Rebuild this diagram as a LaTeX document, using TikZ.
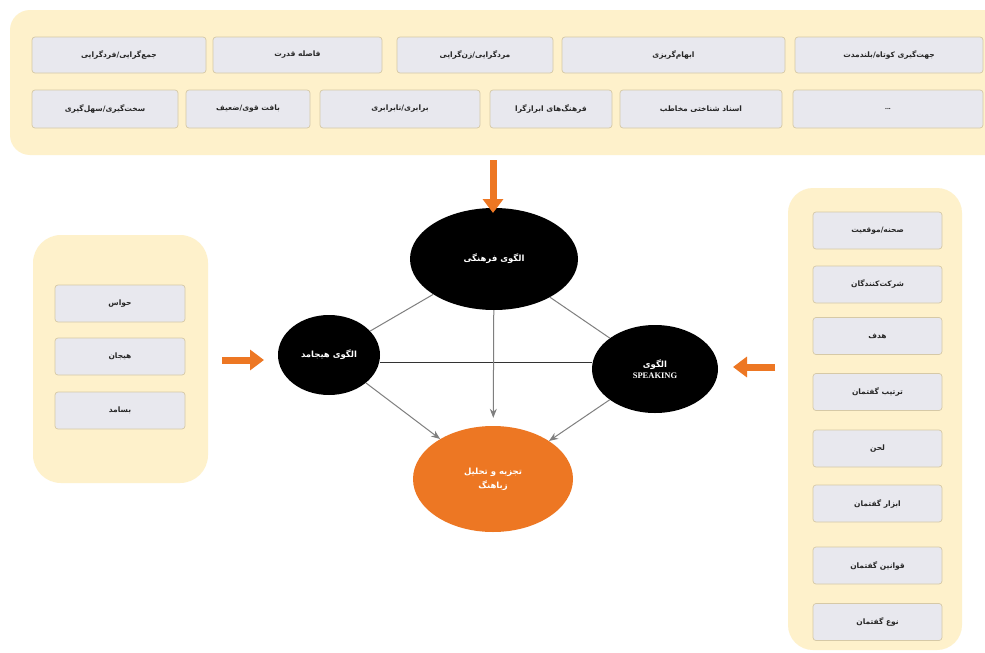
\documentclass[tikz,border=0pt]{standalone}
\usepackage{fontspec}
\setmainfont{Liberation Serif}
\newfontfamily\fa[Script=Arabic]{DejaVu Sans}
\TeXXeTstate=1
\usetikzlibrary{arrows.meta,shapes.geometric}
\definecolor{cream}{HTML}{FEF1CB}
\definecolor{boxg}{HTML}{E8E8EE}
\definecolor{boxb}{HTML}{D6C9A6}
\definecolor{orng}{HTML}{ED7723}
\definecolor{lgray}{HTML}{7F7F7F}
\newcommand{\fat}[1]{{\fa\beginR #1\endR}}
\begin{document}
\begin{tikzpicture}[x=1pt,y=-1pt,
  panel/.style={fill=cream, draw=none},
  item/.style={draw=boxb, fill=boxg, rounded corners=3pt, line width=0.7pt,
    inner sep=0pt, text=black!85, font=\bfseries\fontsize{7.5}{9}\selectfont},
  circ/.style={ellipse, fill=black, text=white, inner sep=0pt, align=center,
    font=\bfseries\fontsize{8.5}{12}\selectfont},
  link/.style={draw=lgray, line width=1pt},
  flow/.style={draw=lgray, line width=1pt, -{Stealth[length=9pt,width=7pt]}},
  bigarrow/.style={draw=orng, line width=7pt, -{Triangle[length=14pt,width=20pt]}}
]
\useasboundingbox (0,0) rectangle (985,653);
\clip (0,0) rectangle (985,653);
\fill[white] (0,0) rectangle (985,653);

% panels
\fill[panel, rounded corners=20pt] (10,10) rectangle (1010,155);
\fill[panel, rounded corners=28pt] (33,235) rectangle (208,483);
\fill[panel, rounded corners=25pt] (788,188) rectangle (962,650);

% top row 1
\node[item, minimum width=174pt, minimum height=36pt] (t1) at (119,55) {\fat{جمع‌گرایی/فردگرایی}};
\node[item, minimum width=169pt, minimum height=36pt] (t2) at (297.5,55) {\fat{فاصله قدرت}};
\node[item, minimum width=156pt, minimum height=36pt] (t3) at (475,55) {\fat{مردگرایی/زن‌گرایی}};
\node[item, minimum width=223pt, minimum height=36pt] (t4) at (673.5,55) {\fat{ابهام‌گریزی}};
\node[item, minimum width=188pt, minimum height=36pt] (t5) at (889,55) {\fat{جهت‌گیری کوتاه/بلندمدت}};
% top row 2
\node[item, minimum width=146pt, minimum height=38pt] (u1) at (105,109) {\fat{سخت‌گیری/سهل‌گیری}};
\node[item, minimum width=124pt, minimum height=38pt] (u2) at (248,109) {\fat{بافت قوی/ضعیف}};
\node[item, minimum width=160pt, minimum height=38pt] (u3) at (400,109) {\fat{برابری/نابرابری}};
\node[item, minimum width=122pt, minimum height=38pt] (u4) at (551,109) {\fat{فرهنگ‌های ابرازگرا}};
\node[item, minimum width=162pt, minimum height=38pt] (u5) at (701,109) {\fat{اسناد شناختی مخاطب}};
\node[item, minimum width=190pt, minimum height=38pt] (u6) at (888,109) {...};

% left items
\node[item, minimum width=130pt, minimum height=37pt] (l1) at (120,303.5) {\fat{حواس}};
\node[item, minimum width=130pt, minimum height=37pt] (l2) at (120,356.5) {\fat{هیجان}};
\node[item, minimum width=130pt, minimum height=37pt] (l3) at (120,410.5) {\fat{بسامد}};

% right items
\node[item, minimum width=129pt, minimum height=37pt] (r1) at (877.5,230.5) {\fat{صحنه/موقعیت}};
\node[item, minimum width=129pt, minimum height=37pt] (r2) at (877.5,284.5) {\fat{شرکت‌کنندگان}};
\node[item, minimum width=129pt, minimum height=37pt] (r3) at (877.5,336) {\fat{هدف}};
\node[item, minimum width=129pt, minimum height=37pt] (r4) at (877.5,392) {\fat{ترتیب گفتمان}};
\node[item, minimum width=129pt, minimum height=37pt] (r5) at (877.5,448.5) {\fat{لحن}};
\node[item, minimum width=129pt, minimum height=37pt] (r6) at (877.5,503.5) {\fat{ابزار گفتمان}};
\node[item, minimum width=129pt, minimum height=37pt] (r7) at (877.5,565.5) {\fat{قوانین گفتمان}};
\node[item, minimum width=129pt, minimum height=37pt] (r8) at (877.5,622) {\fat{نوع گفتمان}};

% circles
\node[circ, minimum width=168pt, minimum height=102pt] (cult) at (494,259) {\fat{الگوی فرهنگی}};
\node[circ, minimum width=102pt, minimum height=80pt] (emo) at (329,355) {\fat{الگوی هیجامد}};
\node[circ, minimum width=126pt, minimum height=88pt] (spk) at (655,369) {\fat{الگوی}\\[-1pt]{\rmfamily\bfseries SPEAKING}};
\node[circ, fill=orng, minimum width=160pt, minimum height=106pt] (ana) at (493,479) {\fat{تجزیه و تحلیل}\\[2pt]\fat{زباهنگ}};

% connectors
\draw[link] (cult) -- (emo);
\draw[link] (cult) -- (spk);
\draw[draw=black!80, line width=1pt] ([yshift=-7pt]emo.east) -- ([yshift=7pt]spk.west);
\draw[flow] (emo) -- (ana);
\draw[flow, shorten >=8pt] (cult) -- (ana);
\draw[flow] (spk) -- (ana);

% orange arrows
\coordinate (dA) at (493,160);
\coordinate (dB) at (493,213);
\coordinate (lA) at (222,360);
\coordinate (lB) at (264,360);
\coordinate (rA) at (775,367);
\coordinate (rB) at (733,367);
\draw[bigarrow] (dA) -- (dB);
\draw[bigarrow] (lA) -- (lB);
\draw[bigarrow] (rA) -- (rB);
\end{tikzpicture}
\end{document}
